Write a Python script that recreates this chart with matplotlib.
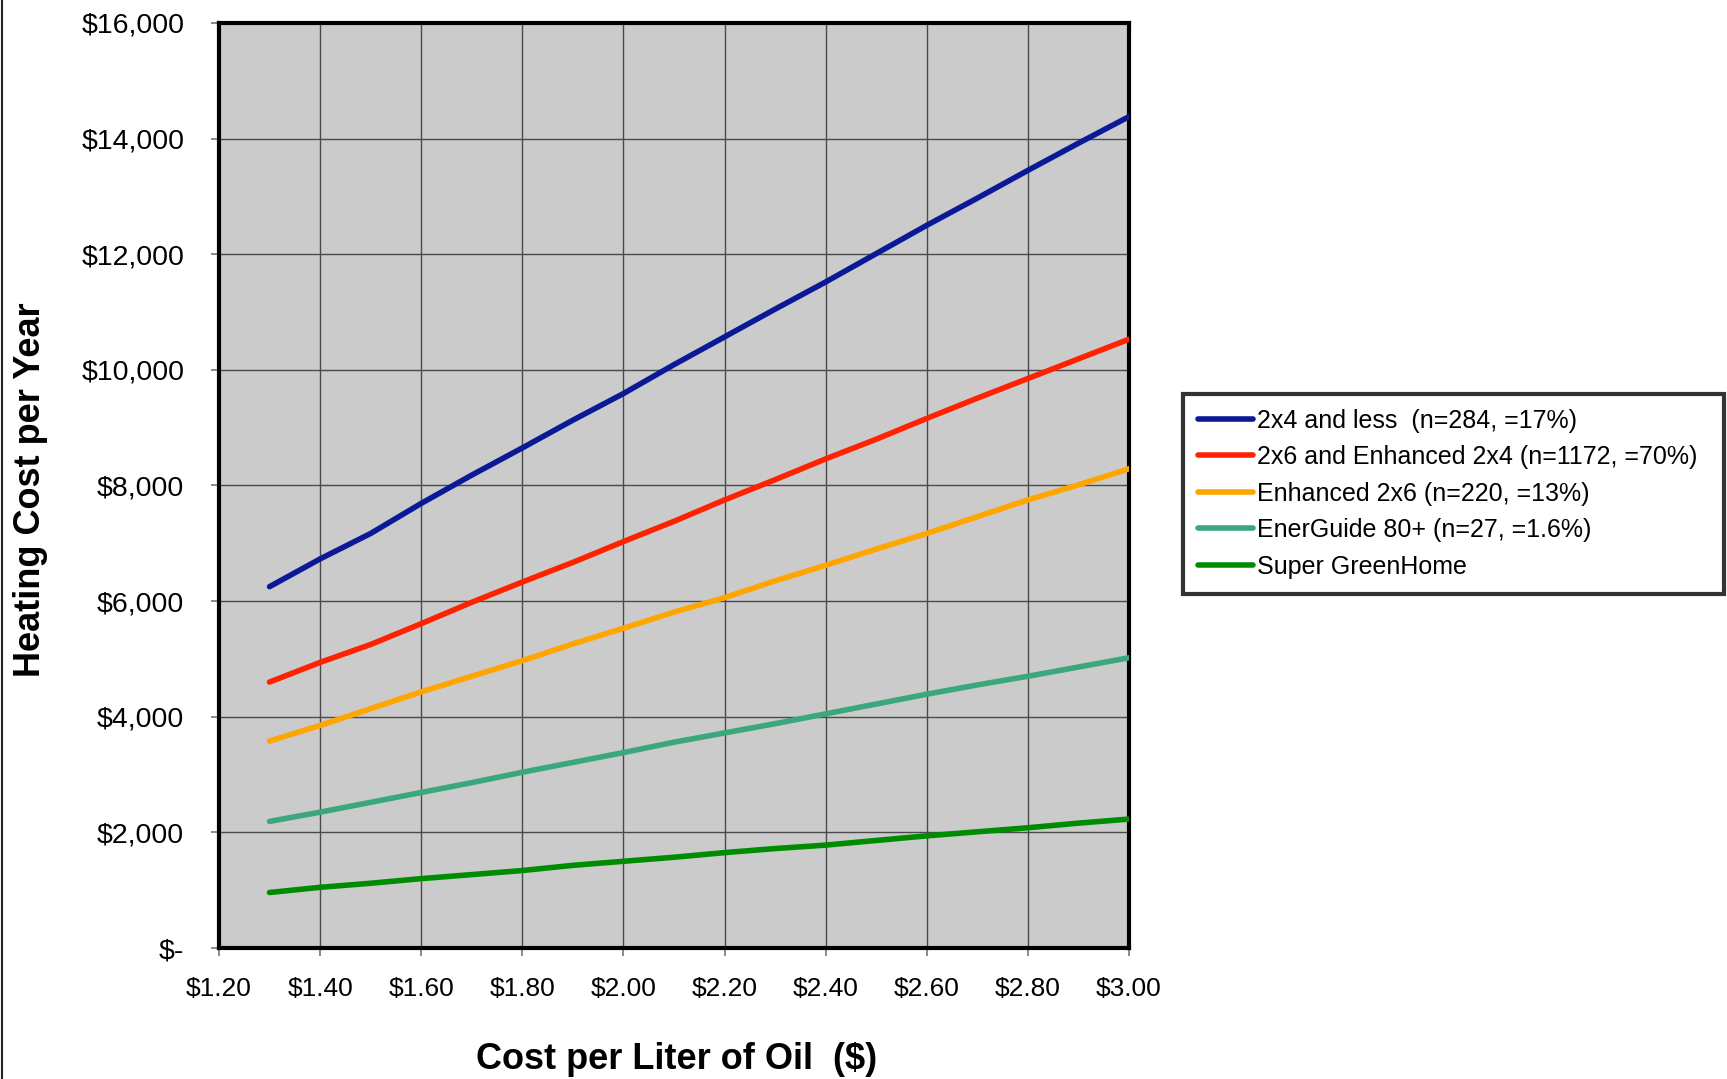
import matplotlib
matplotlib.use('Agg')
import matplotlib.pyplot as plt
from matplotlib.lines import Line2D
from matplotlib.ticker import FuncFormatter

plt.rcParams['font.family'] = ['Liberation Sans', 'DejaVu Sans']

# cost per liter of oil ($)
oil_price = [1.30, 1.40, 1.50, 1.60, 1.70, 1.80, 1.90, 2.00, 2.10,
             2.20, 2.30, 2.40, 2.50, 2.60, 2.70, 2.80, 2.90, 3.00]

# heating cost per year ($)
cost_2x4_less = [6250, 6730, 7170, 7690, 8180, 8650, 9130, 9590, 10090,
                 10570, 11050, 11520, 12010, 12500, 12970, 13450, 13920, 14380]
cost_2x6_enh2x4 = [4600, 4940, 5250, 5610, 5980, 6330, 6670, 7030, 7380,
                   7750, 8100, 8460, 8800, 9160, 9510, 9850, 10190, 10530]
cost_enh_2x6 = [3580, 3850, 4140, 4430, 4700, 4970, 5260, 5530, 5810,
                6060, 6350, 6620, 6900, 7170, 7460, 7750, 8010, 8290]
cost_energuide = [2190, 2350, 2520, 2690, 2860, 3040, 3210, 3380, 3560,
                  3720, 3880, 4050, 4220, 4390, 4550, 4700, 4860, 5020]
cost_super_green = [960, 1050, 1120, 1200, 1270, 1340, 1430, 1500, 1570,
                    1650, 1720, 1780, 1860, 1940, 2010, 2080, 2160, 2230]

series_labels = [
    '2x4 and less  (n=284, =17%)',
    '2x6 and Enhanced 2x4 (n=1172, =70%)',
    'Enhanced 2x6 (n=220, =13%)',
    'EnerGuide 80+ (n=27, =1.6%)',
    'Super GreenHome',
]
series_values = [cost_2x4_less, cost_2x6_enh2x4, cost_enh_2x6,
                 cost_energuide, cost_super_green]
series_colors = ['#0a1a96', '#ff2200', '#ffa500', '#3aa87c', '#008c00']

x_ticks = [1.20, 1.40, 1.60, 1.80, 2.00, 2.20, 2.40, 2.60, 2.80, 3.00]
y_ticks = [0, 2000, 4000, 6000, 8000, 10000, 12000, 14000, 16000]


def dollar_fmt(v, pos):
    if v == 0:
        return '$-'
    return '${:,.0f}'.format(v)


if __name__ == '__main__':
    fig = plt.figure(figsize=(17.27, 10.79), dpi=100)
    ax = fig.add_axes([0.1268, 0.1214, 0.5269, 0.8573])
    ax.set_facecolor('#cbcbcb')

    for vals, label, color in zip(series_values, series_labels, series_colors):
        ax.plot(oil_price, vals, color=color, linewidth=4.0, label=label,
                solid_capstyle='round', solid_joinstyle='round', zorder=3)

    ax.set_xlim(1.2, 3.0)
    ax.set_ylim(0, 16000)
    ax.set_xticks(x_ticks)
    ax.set_yticks(y_ticks)
    ax.xaxis.set_major_formatter(FuncFormatter(lambda v, p: '${:.2f}'.format(v)))
    ax.yaxis.set_major_formatter(FuncFormatter(dollar_fmt))
    ax.grid(True, color='#4a4a4a', linewidth=1.0, zorder=1)
    ax.set_axisbelow(True)

    for side in ax.spines.values():
        side.set_linewidth(3.0)
        side.set_color('black')

    ax.tick_params(axis='both', length=6, width=1.2, color='#777777')
    ax.tick_params(axis='y', pad=19, labelsize=20.5)
    ax.tick_params(axis='x', pad=15, labelsize=19)

    ax.set_xlabel('Cost per Liter of Oil  ($)', fontsize=26, fontweight='bold')
    ax.xaxis.set_label_coords(0.503, -0.102)
    ax.set_ylabel('Heating Cost per Year', fontsize=26, fontweight='bold')
    ax.yaxis.set_label_coords(-0.188, 0.495)

    handles, labels = ax.get_legend_handles_labels()
    leg = fig.legend(
        handles,
        labels,
        loc='center left',
        bbox_to_anchor=(0.685, 0.4426, 0.3135, 0.2),
        mode='expand',
        fontsize=18,
        frameon=True,
        fancybox=False,
        handlelength=2.2,
        handletextpad=0.15,
        labelspacing=0.5,
        borderpad=0.6,
        borderaxespad=0.0,
    )
    leg.get_frame().set_edgecolor('black')
    leg.get_frame().set_linewidth(3.0)
    for line in leg.get_lines():
        line.set_linewidth(4.0)

    # thin border line at the left edge of the page
    fig.add_artist(Line2D([0.0012, 0.0012], [0, 1], transform=fig.transFigure,
                          color='#222222', linewidth=1.5))

    fig.savefig('out.png', dpi=100)
